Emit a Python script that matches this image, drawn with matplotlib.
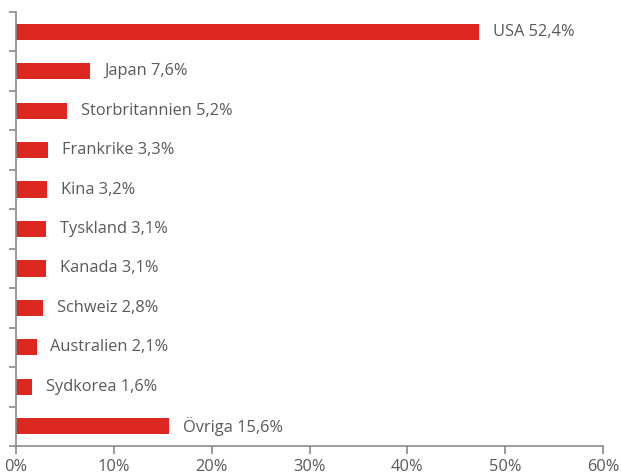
import matplotlib.pyplot as plt
from matplotlib.ticker import FixedLocator

countries = ["USA", "Japan", "Storbritannien", "Frankrike", "Kina", "Tyskland",
             "Kanada", "Schweiz", "Australien", "Sydkorea", "Övriga"]
# bar lengths as drawn in the picture (USA bar is drawn shorter than its label)
bar_vals = [47.3, 7.6, 5.2, 3.3, 3.2, 3.1, 3.1, 2.8, 2.1, 1.6, 15.6]
label_vals = ["52,4", "7,6", "5,2", "3,3", "3,2", "3,1", "3,1", "2,8", "2,1", "1,6", "15,6"]
xticks = [0, 10, 20, 30, 40, 50, 60]

red = "#dc2820"
grey = "#8a8a8a"
textc = "#595959"

plt.rcParams['font.family'] = ['Open Sans', 'DejaVu Sans']

fig = plt.figure(figsize=(6.21, 4.73), dpi=100)
ax = fig.add_axes([16 / 621, 27 / 473, 587 / 621, 434 / 473])

n = len(countries)
ypos = list(range(n))
ax.barh(ypos, bar_vals, height=0.41, color=red)
for y, v, c, lab in zip(ypos, bar_vals, countries, label_vals):
    ax.annotate(f"{c} {lab}%", (v, y), xytext=(10, 0), textcoords="offset points",
                va="center", ha="left", fontsize=11.8, color=textc)

ax.set_xlim(0, 60)
ax.set_ylim(n - 0.5, -0.5)
ax.set_xticks(xticks)
ax.set_xticklabels([f"{t}%" for t in xticks], fontsize=11.8, color=textc)
ax.yaxis.set_major_locator(FixedLocator([i - 0.5 for i in range(n + 1)]))
ax.set_yticklabels([])
ax.tick_params(axis='x', direction='out', length=6, width=1.2, color=grey, pad=3)
ax.tick_params(axis='y', direction='out', length=5, width=1.2, color=grey)

for s in ['top', 'right']:
    ax.spines[s].set_visible(False)
for s in ['left', 'bottom']:
    ax.spines[s].set_color(grey)
    ax.spines[s].set_linewidth(1.2)

fig.savefig("out.png", dpi=100)
